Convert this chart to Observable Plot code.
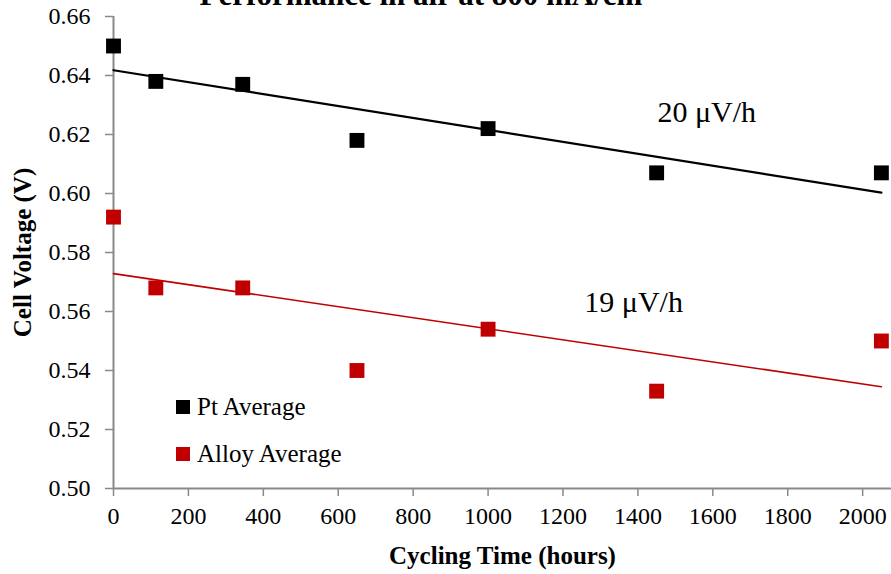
<!DOCTYPE html>
<html>
<head>
<meta charset="utf-8">
<script src="https://cdn.jsdelivr.net/npm/d3@7"></script>
<script src="https://cdn.jsdelivr.net/npm/@observablehq/plot@0.6"></script>
<style>
  html, body { margin: 0; padding: 0; background: #fff; }
  #wrap { position: relative; width: 891px; height: 574px; overflow: hidden;
          font-family: "Liberation Serif", "Times New Roman", serif; }
  #title { position: absolute; left: 0; width: 891px; top: -30px; text-align: center;
           font-weight: bold; font-size: 31px; line-height: 36px; }
  #title span { position: relative; left: -20px; }
  .legend { position: absolute; left: 176px; font-size: 25px; color: #000; }
  .legend .row { position: absolute; left: 0; white-space: nowrap; height: 30px;
                 display: flex; align-items: center; }
  .legend .sw { width: 14px; height: 14px; margin-right: 7px; }
  svg { position: absolute; left: 0; top: 0; }
  svg text { font-family: "Liberation Serif", "Times New Roman", serif; }
</style>
</head>
<body>
<div id="wrap">
  <div id="title"><span>Performance in air at 800 mA/cm<sup style="font-size:18px">2</sup></span></div>
</div>
<script>
// Cycling time at each measurement (hours)
const hours = [0, 113, 345, 650, 1000, 1450, 2050];
// Average cell voltage (V) for each catalyst
const ptAvg = [0.650, 0.638, 0.637, 0.618, 0.622, 0.607, 0.607];
const alloyAvg = [0.592, 0.568, 0.568, 0.540, 0.554, 0.533, 0.550];
// Series names and colours
const seriesNames = ["Pt Average", "Alloy Average"];
const seriesColors = ["#000000", "#C00000"];
// Decay-rate annotations: [text, hours, voltage]
const rateLabels = [
  ["20 \u03BCV/h", 1452, 0.6274],
  ["19 \u03BCV/h", 1257, 0.5632]
];
const xTicks = d3.range(0, 2001, 200);
const yTicks = d3.range(0.50, 0.6601, 0.02);

const rows = [];
hours.forEach((h, i) => {
  rows.push({hours: h, volt: ptAvg[i], series: seriesNames[0]});
  rows.push({hours: h, volt: alloyAvg[i], series: seriesNames[1]});
});
const rates = rateLabels.map(([text, h, v]) => ({text, h, v}));

const font = '"Liberation Serif", "Times New Roman", serif';
const axisGray = "#898989";

const chart = Plot.plot({
  width: 891,
  height: 574,
  marginLeft: 113,
  marginRight: 0,
  marginTop: 16,
  marginBottom: 86,
  style: {fontFamily: font, fontSize: "24px", color: "#000", background: "transparent", overflow: "visible"},
  x: {domain: [0, 2077]},
  y: {domain: [0.50, 0.66]},
  color: {domain: seriesNames, range: seriesColors},
  marks: [
    Plot.axisX({ticks: xTicks, tickFormat: d3.format("d"), tickSize: 8, tickPadding: 10,
                stroke: axisGray, strokeWidth: 1.5, label: null, fontSize: 24, fontFamily: font}),
    Plot.axisY({ticks: yTicks, tickFormat: d3.format(".2f"), tickSize: 8, tickPadding: 15,
                stroke: axisGray, strokeWidth: 1.5, label: null, fontSize: 24, fontFamily: font}),
    Plot.ruleY([0.50], {stroke: axisGray, strokeWidth: 2}),
    Plot.ruleX([0], {stroke: axisGray, strokeWidth: 2}),
    Plot.linearRegressionY(rows.filter(d => d.series === seriesNames[0]),
      {x: "hours", y: "volt", ci: 0, stroke: seriesColors[0], strokeWidth: 2.2}),
    Plot.linearRegressionY(rows.filter(d => d.series === seriesNames[1]),
      {x: "hours", y: "volt", ci: 0, stroke: seriesColors[1], strokeWidth: 1.6}),
    Plot.dot(rows, {x: "hours", y: "volt", fill: "series", symbol: "square", r: 8.4}),
    Plot.text(rates, {x: "h", y: "v", text: "text", textAnchor: "start", fontSize: 30,
                      fill: "#000", fontFamily: font}),
    Plot.text(["Cycling Time (hours)"], {frameAnchor: "bottom", textAnchor: "middle", dy: 75,
                fontSize: 25, fontWeight: "bold", fill: "#000", fontFamily: font}),
    Plot.text(["Cell Voltage (V)"], {frameAnchor: "left", textAnchor: "middle", dx: -91, rotate: -90,
                fontSize: 25, fontWeight: "bold", fill: "#000", fontFamily: font})
  ]
});
document.getElementById("wrap").appendChild(chart);

// Legend drawn from the same series names and colours
const legend = document.createElement("div");
legend.className = "legend";
legend.style.top = "0px";
const legendTops = [392, 439];
seriesNames.forEach((name, i) => {
  const row = document.createElement("div");
  row.className = "row";
  row.style.top = legendTops[i] + "px";
  const sw = document.createElement("span");
  sw.className = "sw";
  sw.style.background = seriesColors[i];
  row.appendChild(sw);
  row.appendChild(document.createTextNode(name));
  legend.appendChild(row);
});
document.getElementById("wrap").appendChild(legend);
</script>
</body>
</html>
